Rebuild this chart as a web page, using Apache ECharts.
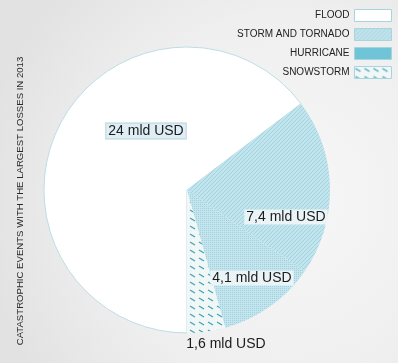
<!DOCTYPE html>
<html>
<head>
<meta charset="utf-8">
<script src="https://cdn.jsdelivr.net/npm/echarts@6/dist/echarts.min.js"></script>
<style>
  html, body { margin: 0; padding: 0; }
  #chart { width: 398px; height: 363px; }
</style>
</head>
<body>
<div id="chart"></div>
<script>
// Insured losses from the costliest catastrophe types of 2013 (billion USD)
const categories = ['FLOOD', 'STORM AND TORNADO', 'HURRICANE', 'SNOWSTORM'];
const losses = [24, 7.4, 4.1, 1.6];
const valueLabels = ['24 mld USD', '7,4 mld USD', '4,1 mld USD', '1,6 mld USD'];
const titleText = 'CATASTROPHIC EVENTS WITH THE LARGEST LOSSES IN 2013';

// Where each value label sits on the canvas
const labelSpots = [[146, 131], [286, 217], [252, 278], [226, 344]];

const FONT = "Arial, 'Liberation Sans', sans-serif";

// Small repeating textures used as slice fills
function pattern(w, h, draw) {
  const c = document.createElement('canvas');
  c.width = w; c.height = h;
  draw(c.getContext('2d'), w, h);
  return { image: c, repeat: 'repeat' };
}

const hatchFill = pattern(4, 4, (g, w, h) => {
  g.fillStyle = '#c2e4ed'; g.fillRect(0, 0, w, h);
  g.strokeStyle = '#a2d3e0'; g.lineWidth = 1;
  g.beginPath(); g.moveTo(-1, h + 1); g.lineTo(w + 1, -1); g.stroke();
});

const dotFill = pattern(2, 2, (g, w, h) => {
  g.fillStyle = '#c4e5ee'; g.fillRect(0, 0, w, h);
  g.fillStyle = '#9fd1df'; g.fillRect(0, 0, 1, 1);
});

const dotFillDark = pattern(2, 2, (g, w, h) => {
  g.fillStyle = '#7ccadd'; g.fillRect(0, 0, w, h);
  g.fillStyle = '#4fb3cc'; g.fillRect(0, 0, 1, 1);
});

const dashFill = pattern(9, 8, (g, w, h) => {
  g.fillStyle = '#f1f6f7'; g.fillRect(0, 0, w, h);
  g.strokeStyle = '#3ea3b6'; g.lineWidth = 1.2;
  g.beginPath(); g.moveTo(1, 2); g.lineTo(6, 5); g.stroke();
});

const fills = ['#ffffff', hatchFill, dotFill, dashFill];
const labelBoxes = [
  { backgroundColor: '#deeef4', borderColor: '#b7d3dc', borderWidth: 1 },
  { backgroundColor: 'rgba(240,245,247,0.9)', borderColor: 'transparent', borderWidth: 0 },
  { backgroundColor: 'rgba(240,245,247,0.9)', borderColor: 'transparent', borderWidth: 0 },
  { backgroundColor: 'transparent', borderColor: 'transparent', borderWidth: 0 }
];

const chart = echarts.init(document.getElementById('chart'), null, { renderer: 'canvas' });

chart.setOption({
  animation: false,
  backgroundColor: {
    type: 'radial', x: 0.72, y: 0.55, r: 0.85,
    colorStops: [
      { offset: 0, color: '#f7f7f7' },
      { offset: 0.6, color: '#efefef' },
      { offset: 1, color: '#e2e2e2' }
    ]
  },
  legend: {
    orient: 'vertical',
    right: 6,
    top: 9,
    padding: 0,
    align: 'right',
    itemWidth: 37,
    itemHeight: 12,
    itemGap: 6,
    icon: 'rect',
    selectedMode: false,
    itemStyle: { borderColor: '#a8d4de', borderWidth: 1 },
    textStyle: { fontFamily: FONT, fontSize: 10, color: '#222', padding: [0, 0, 0, 0] },
    data: categories.map((name, i) => i === 2
      ? { name, itemStyle: { color: dotFillDark } }
      : { name })
  },
  graphic: [{
    type: 'text',
    x: 20,
    y: 201,
    rotation: Math.PI / 2,
    style: {
      text: titleText,
      fontFamily: FONT,
      fontSize: 9.6,
      fill: '#2a2a2a',
      textAlign: 'center',
      textVerticalAlign: 'middle'
    }
  }],
  series: [{
    type: 'pie',
    center: [187, 190],
    radius: 143,
    startAngle: 270,
    clockwise: true,
    avoidLabelOverlap: false,
    emphasis: { disabled: true },
    labelLine: { show: false },
    label: {
      show: true,
      position: 'inside',
      fontFamily: FONT,
      fontSize: 14,
      color: '#1c1c1c',
      padding: [1, 2, 0, 2]
    },
    labelLayout: (params) => ({
      x: labelSpots[params.dataIndex][0],
      y: labelSpots[params.dataIndex][1],
      align: 'center',
      verticalAlign: 'middle'
    }),
    data: categories.map((name, i) => ({
      name,
      value: losses[i],
      itemStyle: i === 0
        ? { color: fills[i], borderColor: '#bfdde5', borderWidth: 1 }
        : { color: fills[i], borderWidth: 0 },
      label: Object.assign({ formatter: valueLabels[i] }, labelBoxes[i])
    }))
  }]
});
</script>
</body>
</html>
